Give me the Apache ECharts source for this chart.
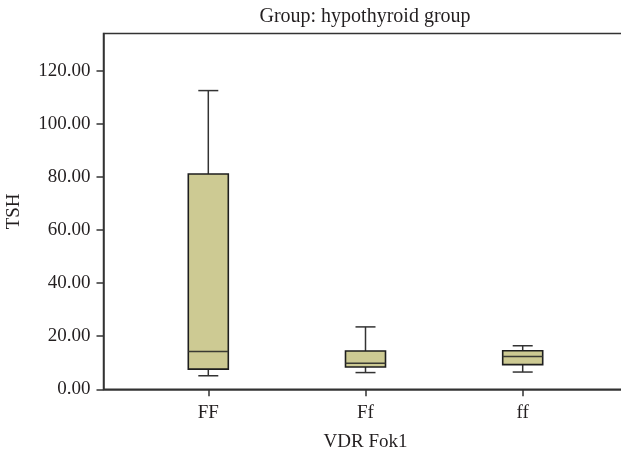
<!DOCTYPE html>
<html>
<head>
<meta charset="utf-8">
<script src="https://cdn.jsdelivr.net/npm/echarts@6/dist/echarts.min.js"></script>
<style>html,body{margin:0;padding:0;background:#fff;}#c{width:621px;height:451px;}</style>
</head>
<body>
<div id="c"></div>
<script>
var categories = ['FF', 'Ff', 'ff'];
var lowWhisker = [5.1, 6.3, 6.5];
var q1 = [7.6, 8.4, 9.3];
var median = [14.2, 9.8, 12.4];
var q3 = [81.1, 14.4, 14.5];
var highWhisker = [112.5, 23.5, 16.4];
var yTicks = [0, 20, 40, 60, 80, 100, 120];
var xPositions = [1, 2, 3];

var FONT = 'Liberation Serif';
var boxData = categories.map(function (c, i) {
  return [xPositions[i], lowWhisker[i], q1[i], median[i], q3[i], highWhisker[i]];
});

var chart = echarts.init(document.getElementById('c'), null, {renderer: 'canvas'});
chart.setOption({
  animation: false,
  backgroundColor: '#fff',
  title: {
    text: 'Group: hypothyroid group',
    left: 365, top: 7, textAlign: 'center', padding: 0,
    textStyle: {fontFamily: FONT, fontSize: 20, fontWeight: 'normal', color: '#231f20'}
  },
  grid: {
    left: 103.5, top: 33.5, right: -6.5, bottom: 61.7,
    outerBoundsMode: 'none', containLabel: false,
    show: true, borderColor: '#333', borderWidth: 1.5, backgroundColor: 'transparent'
  },
  xAxis: {
    type: 'value', min: 1 / 3, max: 11 / 3,
    name: 'VDR Fok1', nameLocation: 'middle', nameGap: 43,
    nameTextStyle: {fontFamily: FONT, fontSize: 19, color: '#231f20'},
    axisLine: {show: true, onZero: false, lineStyle: {color: '#333', width: 1.5}},
    axisTick: {show: true, length: 7, customValues: xPositions, lineStyle: {color: '#333', width: 1.5}},
    axisLabel: {
      customValues: xPositions, margin: 14,
      fontFamily: FONT, fontSize: 19, color: '#231f20',
      formatter: function (v) { var i = xPositions.indexOf(Math.round(v)); return i >= 0 ? categories[i] : ''; }
    },
    splitLine: {show: false}
  },
  yAxis: {
    type: 'value', min: 0, max: 134,
    name: 'TSH', nameLocation: 'middle', nameGap: 80,
    nameTextStyle: {fontFamily: FONT, fontSize: 19, color: '#231f20'},
    axisLine: {show: true, lineStyle: {color: '#333', width: 1.5}},
    axisTick: {show: true, length: 7, customValues: yTicks, lineStyle: {color: '#333', width: 1.5}},
    axisLabel: {
      customValues: yTicks, margin: 13,
      fontFamily: FONT, fontSize: 19, color: '#231f20',
      formatter: function (v) { return v.toFixed(2); }
    },
    splitLine: {show: false}
  },
  series: [{
    type: 'custom',
    data: boxData,
    encode: {x: 0, y: [1, 2, 3, 4, 5]},
    renderItem: function (params, api) {
      var x = api.value(0);
      var pLow = api.coord([x, api.value(1)]);
      var pQ1 = api.coord([x, api.value(2)]);
      var pMed = api.coord([x, api.value(3)]);
      var pQ3 = api.coord([x, api.value(4)]);
      var pHigh = api.coord([x, api.value(5)]);
      var cx = pQ1[0];
      var hw = 20, cw = 10;
      var lineStyle = {stroke: '#333', lineWidth: 1.5, fill: null};
      return {
        type: 'group',
        children: [
          {type: 'line', shape: {x1: cx, y1: pHigh[1], x2: cx, y2: pQ3[1]}, style: lineStyle},
          {type: 'line', shape: {x1: cx, y1: pLow[1], x2: cx, y2: pQ1[1]}, style: lineStyle},
          {type: 'line', shape: {x1: cx - cw, y1: pHigh[1], x2: cx + cw, y2: pHigh[1]}, style: lineStyle},
          {type: 'line', shape: {x1: cx - cw, y1: pLow[1], x2: cx + cw, y2: pLow[1]}, style: lineStyle},
          {type: 'rect', shape: {x: cx - hw, y: pQ3[1], width: 2 * hw, height: pQ1[1] - pQ3[1]},
            style: {fill: '#cdca93', stroke: '#1e1e1e', lineWidth: 1.6}},
          {type: 'line', shape: {x1: cx - hw, y1: pMed[1], x2: cx + hw, y2: pMed[1]}, style: {stroke: '#3a3a33', lineWidth: 1.5}}
        ]
      };
    }
  }]
});
</script>
</body>
</html>
